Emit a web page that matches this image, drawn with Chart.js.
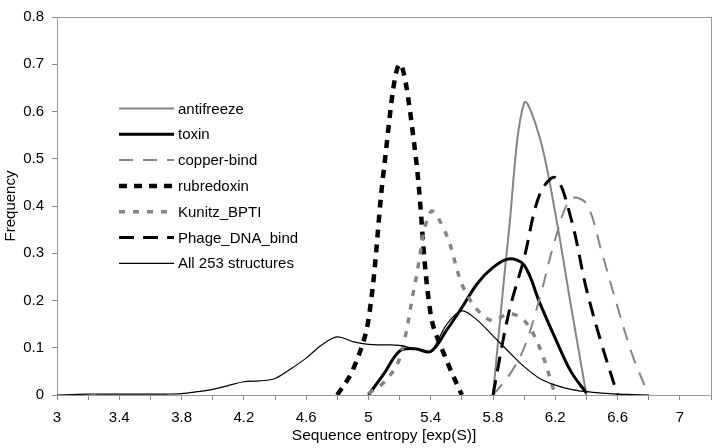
<!DOCTYPE html>
<html>
<head>
<meta charset="utf-8">
<script src="https://cdn.jsdelivr.net/npm/chart.js@4/dist/chart.umd.min.js"></script>
<style>
  body { margin: 0; background: #fff; }
  canvas { display: block; }
</style>
</head>
<body>
<canvas id="chart" width="720" height="448"></canvas>
<script>
'use strict';

// x positions shared by every series (sequence entropy)
const entropy = [3.0, 3.1, 3.2, 3.3, 3.4, 3.5, 3.6, 3.7, 3.8, 3.9,
                 4.0, 4.1, 4.2, 4.3, 4.4, 4.5, 4.6, 4.7, 4.8, 4.9,
                 5.0, 5.1, 5.2, 5.3, 5.4, 5.5, 5.6, 5.7, 5.8, 5.9,
                 6.0, 6.1, 6.2, 6.3, 6.4, 6.5, 6.6, 6.7, 6.8];

const _ = null;
const antifreeze = [_, _, _, _, _, _, _, _, _, _,
                    _, _, _, _, _, _, _, _, _, _,
                    _, _, _, _, _, _, _, _, 0, 0.34,
                    0.618, 0.545, 0.385, 0.19, 0, _, _, _, _];
const toxin = [_, _, _, _, _, _, _, _, _, _,
               _, _, _, _, _, _, _, _, _, _,
               0, 0.045, 0.093, 0.098, 0.092, 0.136, 0.185, 0.236, 0.27, 0.288,
               0.275, 0.195, 0.12, 0.05, 0.004, _, _, _, _];
const copperBind = [_, _, _, _, _, _, _, _, _, _,
                    _, _, _, _, _, _, _, _, _, _,
                    _, _, _, _, _, _, _, _, 0, 0.04,
                    0.10, 0.205, 0.33, 0.415, 0.405, 0.30, 0.186, 0.08, 0];
const rubredoxin = [_, _, _, _, _, _, _, _, _, _,
                    _, _, _, _, _, _, _, _, 0, 0.053,
                    0.159, 0.48, 0.70, 0.515, 0.17, 0.075, 0, _, _, _,
                    _, _, _, _, _, _, _, _, _];
const kunitz = [_, _, _, _, _, _, _, _, _, _,
                _, _, _, _, _, _, _, _, _, _,
                0.003, 0.027, 0.077, 0.237, 0.388, 0.34, 0.235, 0.18, 0.157, 0.172,
                0.158, 0.1, 0, _, _, _, _, _, _];
const phage = [_, _, _, _, _, _, _, _, _, _,
               _, _, _, _, _, _, _, _, _, _,
               _, _, _, _, _, _, _, _, 0, 0.172,
               0.29, 0.425, 0.46, 0.375, 0.224, 0.105, 0, _, _];
const all253 = [0, 0.001, 0.002, 0.002, 0.002, 0.002, 0.002, 0.002, 0.003, 0.007,
                0.012, 0.02, 0.028, 0.03, 0.035, 0.055, 0.078, 0.106, 0.123, 0.113,
                0.107, 0.106, 0.105, 0.098, 0.093, 0.148, 0.178, 0.158, 0.125, 0.092,
                0.06, 0.035, 0.021, 0.012, 0.007, 0.004, 0.002, 0.001, 0];

const xTicksShown = ['3', '3.4', '3.8', '4.2', '4.6', '5', '5.4', '5.8', '6.2', '6.6', '7'];

const GRAY = '#858585';
const FONT = '"Liberation Sans", Arial, sans-serif';

function points(values) {
  return entropy.map((x, i) => ({x: x, y: values[i]}));
}

function series(label, values, color, width, dash, order) {
  return {
    label: label,
    data: points(values),
    borderColor: color,
    borderWidth: width,
    borderDash: dash,
    borderCapStyle: 'butt',
    pointRadius: 0,
    tension: 0.35,
    fill: false,
    order: order
  };
}

// frame round the plot area plus the legend inside it
const framePlugin = {
  id: 'frame',
  beforeDatasetsDraw(chart) {
    const a = chart.chartArea;
    const ctx = chart.ctx;
    ctx.save();
    ctx.strokeStyle = '#999';
    ctx.lineWidth = 1;
    ctx.strokeRect(Math.round(a.left) + 0.5, Math.round(a.top) + 0.5,
                   Math.round(a.right - a.left), Math.round(a.bottom - a.top));
    ctx.restore();
  },
  afterDatasetsDraw(chart) {
    const ctx = chart.ctx;
    ctx.save();
    ctx.font = '15px ' + FONT;
    ctx.textBaseline = 'middle';
    ctx.fillStyle = '#000';
    chart.data.datasets.forEach((ds, i) => {
      const y = 108.5 + i * 25.8;
      ctx.beginPath();
      ctx.setLineDash(ds.borderDash || []);
      ctx.lineWidth = ds.borderWidth;
      ctx.strokeStyle = ds.borderColor;
      ctx.moveTo(119, y);
      ctx.lineTo(174, y);
      ctx.stroke();
      ctx.fillText(ds.label, 178, y + 1);
    });
    ctx.restore();
  }
};

const ctx = document.getElementById('chart');
const chart = new Chart(ctx, {
  type: 'line',
  data: {
    datasets: [
      series('antifreeze', antifreeze, GRAY, 2, [], 7),
      series('toxin', toxin, '#000', 3, [], 6),
      series('copper-bind', copperBind, GRAY, 2, [14, 10], 5),
      series('rubredoxin', rubredoxin, '#000', 4.5, [8, 7], 4),
      series('Kunitz_BPTI', kunitz, GRAY, 3.5, [6, 8], 3),
      series('Phage_DNA_bind', phage, '#000', 3, [15, 9], 2),
      series('All 253 structures', all253, '#000', 1.2, [], 1)
    ]
  },
  options: {
    responsive: false,
    animation: false,
    devicePixelRatio: 1,
    layout: {padding: {top: 8, right: 4, left: 0, bottom: 0}},
    plugins: {
      legend: {display: false},
      tooltip: {enabled: false}
    },
    scales: {
      x: {
        type: 'linear',
        min: 3,
        max: 7.2,
        afterFit(scale) { scale.height = 53; },
        border: {display: false},
        grid: {drawOnChartArea: false, drawTicks: true, tickLength: 5, color: '#888'},
        ticks: {
          stepSize: 0.2,
          autoSkip: false,
          maxRotation: 0,
          padding: 9,
          color: '#000',
          font: {size: 15, family: FONT},
          callback(v) {
            const s = String(Math.round(v * 10) / 10);
            return xTicksShown.includes(s) ? s : '';
          }
        },
        title: {
          display: true,
          text: 'Sequence entropy [exp(S)]',
          color: '#000',
          font: {size: 15.5, family: FONT},
          padding: {top: 0, bottom: 3}
        }
      },
      y: {
        min: 0,
        max: 0.8,
        afterFit(scale) { scale.width = 57; },
        border: {display: false},
        grid: {drawOnChartArea: false, drawTicks: true, tickLength: 5, color: '#888'},
        ticks: {
          stepSize: 0.1,
          padding: 8,
          color: '#000',
          font: {size: 15, family: FONT},
          callback(v) { return v === 0 ? '0' : v.toFixed(1); }
        },
        title: {
          display: true,
          text: 'Frequency',
          color: '#000',
          font: {size: 15, family: FONT},
          padding: {top: 2, bottom: 0}
        }
      }
    }
  },
  plugins: [framePlugin]
});
</script>
</body>
</html>
